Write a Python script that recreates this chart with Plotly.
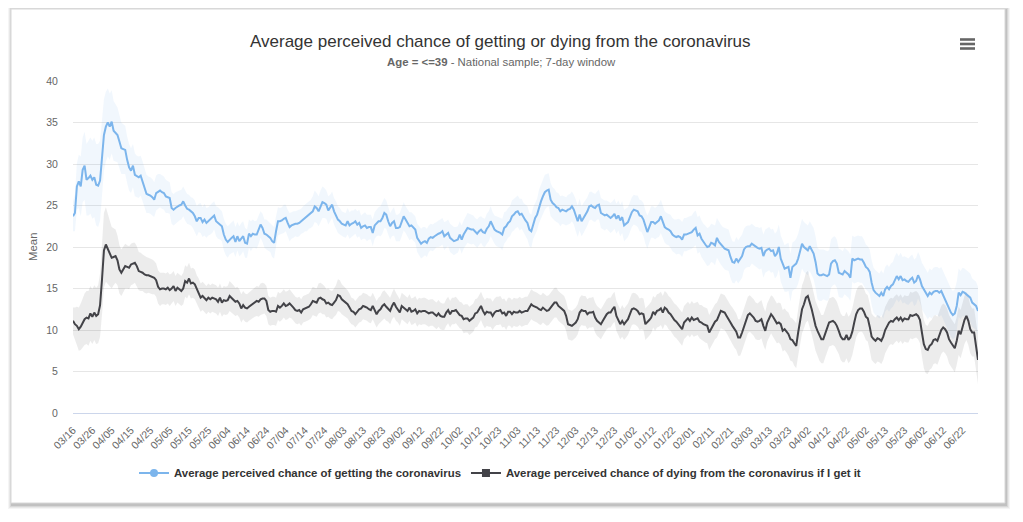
import pandas as pd
import plotly.graph_objects as go

# ---------------- data ----------------
start_date = "2020-03-16"
end_date = "2021-06-30"
missing_dates = ["2020-10-20", "2020-10-31", "2021-05-08"]

series_names = [
    "Average perceived chance of getting the coronavirus",
    "Average perceived chance of dying from the coronavirus if I get it",
]

get_mean = [
    23.7, 24.1, 27.3, 27.9, 27.3, 29.3, 29.8, 28.1, 28.3, 28.6,
    28.1, 28.4, 27.5, 27.4, 28.0, 31.0, 33.5, 34.5, 35.0, 34.5,
    35.1, 34.0, 33.7, 33.5, 32.7, 31.9, 31.8, 31.7, 30.5, 29.6,
    29.2, 29.8, 28.7, 28.5, 28.4, 28.6, 27.9, 27.1, 26.4, 26.3,
    26.2, 26.0, 25.7, 26.5, 26.7, 26.8, 26.6, 26.5, 26.1, 26.0,
    25.9, 24.7, 24.5, 24.7, 24.9, 25.0, 25.1, 25.5, 25.0, 24.6,
    24.5, 24.3, 24.1, 23.7, 23.1, 23.5, 23.5, 23.0, 23.3, 22.9,
    23.1, 23.3, 23.5, 23.8, 23.1, 22.9, 22.7, 22.5, 21.5, 20.9,
    20.6, 20.9, 21.1, 21.3, 20.6, 21.3, 20.7, 21.0, 21.3, 20.5,
    20.4, 21.6, 21.3, 21.6, 21.5, 21.5, 22.1, 22.7, 22.3, 21.6,
    21.5, 21.3, 21.1, 20.7, 20.5, 21.9, 23.1, 23.1, 23.2, 23.4,
    23.5, 22.9, 22.4, 22.6, 22.7, 22.8, 22.8, 22.9, 23.1, 23.3,
    23.5, 23.6, 23.8, 24.0, 24.3, 24.9, 24.7, 24.3, 24.9, 25.4,
    25.3, 25.1, 24.4, 24.7, 25.1, 24.3, 23.8, 23.3, 23.1, 22.8,
    22.7, 22.6, 23.1, 22.6, 22.8, 22.9, 23.1, 22.7, 22.9, 22.3,
    22.5, 22.6, 22.3, 22.4, 22.4, 21.7, 22.6, 22.9, 23.1, 23.1,
    23.5, 24.1, 23.9, 23.1, 22.5, 22.9, 23.1, 22.3, 22.3, 22.4,
    23.1, 23.7, 23.3, 22.9, 22.5, 22.6, 22.3, 22.1, 21.1, 20.7,
    20.4, 20.6, 20.7, 20.5, 21.0, 21.2, 21.1, 21.3, 21.5, 21.6,
    21.7, 21.9, 21.3, 21.5, 21.7, 21.1, 20.9, 20.7, 20.8, 20.9,
    21.5, 20.9, 21.5, 21.9, 22.3, 22.2, 22.1, 22.1, 21.8, 21.6,
    21.9, 22.1, 21.8, 21.7, 22.2, 22.5, 23.1, 22.5, 22.1, 21.9,
    21.8, 21.7, 21.5, 22.3, 22.5, 22.9, 23.1, 23.7, 23.9, 24.2,
    24.3, 23.9, 24.0, 23.5, 23.2, 22.9, 22.1, 21.9, 22.9, 23.5,
    23.9, 24.9, 25.5, 26.1, 26.6, 26.8, 26.9, 25.7, 25.3, 25.1,
    24.8, 24.7, 24.3, 24.5, 24.4, 24.3, 24.5, 24.6, 24.9, 24.5,
    23.8, 23.1, 23.9, 23.1, 23.5, 23.9, 24.3, 24.9, 25.0, 24.8,
    24.7, 25.0, 25.1, 24.1, 23.9, 23.8, 23.9, 23.7, 23.5, 23.7,
    24.0, 23.4, 23.8, 23.2, 23.6, 22.6, 22.8, 23.0, 23.6, 24.2,
    24.5, 24.4, 24.3, 23.8, 23.7, 23.3, 22.4, 21.8, 22.4, 23.0,
    23.0, 22.8, 23.0, 23.2, 23.7, 23.0, 22.4, 22.2, 22.1, 21.9,
    21.5, 21.3, 21.2, 21.3, 21.2, 20.9, 21.5, 21.5, 21.6, 21.7,
    21.8, 22.1, 22.3, 21.4, 21.6, 21.0, 20.6, 20.3, 20.0, 20.1,
    20.5, 20.4, 20.2, 21.1, 20.6, 20.3, 20.0, 19.8, 19.7, 19.6,
    18.8, 18.2, 18.1, 18.6, 18.2, 18.6, 18.9, 19.7, 20.0, 20.1,
    20.1, 20.4, 20.2, 20.0, 19.9, 19.8, 19.9, 18.9, 19.5, 19.7,
    19.8, 19.5, 19.6, 18.9, 19.2, 20.0, 18.6, 18.0, 17.4, 17.5,
    17.6, 16.3, 17.6, 17.8, 18.0, 18.6, 19.4, 20.4, 20.0, 19.8,
    19.6, 20.1, 19.6, 19.2, 18.2, 16.8, 16.6, 16.6, 16.7, 16.6,
    16.5, 16.7, 18.0, 18.3, 18.4, 18.0, 16.9, 16.8, 16.7, 17.1,
    16.9, 16.7, 16.3, 18.6, 18.4, 18.5, 18.6, 18.5, 18.5, 18.1,
    17.6, 17.4, 17.0, 15.7, 14.8, 14.5, 14.3, 14.1, 14.5, 14.1,
    14.9, 15.2, 14.9, 15.3, 15.5, 16.1, 16.5, 16.1, 16.5, 16.0,
    16.1, 15.9, 15.8, 16.1, 16.3, 15.7, 15.9, 16.6, 16.1, 15.3,
    14.9, 14.6, 14.1, 14.5, 14.3, 14.6, 14.7, 14.7, 14.5, 14.7,
    14.2, 13.6, 13.1, 12.5, 12.1, 11.8, 12.0, 12.9, 14.5, 14.2,
    14.6, 14.5, 14.3, 14.1, 13.9, 13.3, 13.1, 12.9, 12.3,
]

get_margin = [
    1.8, 2.2, 2.8, 3.2, 3.6, 3.9, 4.1, 4.3, 4.5, 4.6,
    4.7, 4.8, 4.9, 5.0, 4.8, 4.5, 4.3, 4.2, 4.1, 4.0,
    3.8, 3.6, 3.4, 3.3, 3.2, 3.1, 3.0, 2.9, 2.8, 2.8,
    2.7, 2.6, 2.6, 2.5, 2.5, 2.4, 2.4, 2.3, 2.3, 2.2,
    2.2, 2.2, 2.1, 2.1, 2.1, 2.0, 2.0, 2.0, 2.0, 1.9,
    1.9, 1.9, 1.9, 1.9, 1.8, 1.8, 1.8, 1.8, 1.8, 1.8,
    1.8, 1.7, 1.8, 1.9, 1.8, 1.7, 1.8, 1.8, 1.9, 1.8,
    1.7, 1.8, 1.8, 1.7, 1.8, 1.9, 1.8, 1.8, 1.9, 1.9,
    1.9, 1.8, 1.8, 1.9, 1.8, 1.7, 1.8, 1.9, 1.8, 1.8,
    1.7, 1.7, 1.8, 1.7, 1.6, 1.7, 1.7, 1.6, 1.7, 1.7,
    1.8, 1.8, 1.7, 1.9, 1.9, 1.8, 1.7, 1.6, 1.6, 1.7,
    1.6, 1.6, 1.7, 1.6, 1.6, 1.5, 1.6, 1.6, 1.5, 1.6,
    1.6, 1.7, 1.6, 1.7, 1.8, 1.9, 1.8, 1.8, 1.9, 1.9,
    1.8, 1.7, 1.7, 1.6, 1.6, 1.6, 1.7, 1.6, 1.6, 1.5,
    1.5, 1.5, 1.6, 1.6, 1.6, 1.5, 1.5, 1.6, 1.6, 1.5,
    1.5, 1.6, 1.6, 1.5, 1.5, 1.6, 1.6, 1.6, 1.7, 1.8,
    1.9, 1.8, 1.7, 1.6, 1.6, 1.6, 1.7, 1.6, 1.6, 1.7,
    1.8, 1.7, 1.6, 1.6, 1.7, 1.6, 1.6, 1.6, 1.7, 1.8,
    1.8, 1.8, 1.7, 1.7, 1.6, 1.6, 1.6, 1.6, 1.5, 1.6,
    1.6, 1.6, 1.7, 1.6, 1.6, 1.7, 1.7, 1.7, 1.6, 1.6,
    1.6, 1.7, 1.7, 1.7, 1.8, 1.8, 1.8, 1.7, 1.7, 1.7,
    1.7, 1.6, 1.7, 1.7, 1.8, 1.8, 1.8, 1.7, 1.7, 1.8,
    1.8, 1.8, 1.9, 1.9, 1.8, 1.8, 1.8, 1.9, 1.9, 1.9,
    1.9, 1.9, 1.8, 1.8, 1.9, 2.0, 2.0, 2.0, 1.9, 1.9,
    1.9, 2.0, 2.0, 2.1, 2.1, 2.0, 2.0, 2.0, 1.9, 1.9,
    1.8, 1.8, 1.8, 1.7, 1.7, 1.7, 1.8, 1.8, 1.8, 1.8,
    1.9, 1.9, 1.9, 1.8, 1.8, 1.8, 1.7, 1.7, 1.7, 1.7,
    1.7, 1.7, 1.8, 1.8, 1.8, 1.8, 1.7, 1.7, 1.8, 1.8,
    1.8, 1.8, 1.8, 1.9, 1.9, 1.9, 1.9, 1.8, 1.8, 1.8,
    1.8, 1.8, 1.9, 1.9, 1.9, 2.0, 2.0, 2.0, 1.9, 1.9,
    1.9, 1.9, 1.9, 2.0, 2.0, 2.0, 1.9, 1.9, 1.9, 2.0,
    2.0, 2.0, 2.1, 2.1, 2.1, 2.1, 2.0, 2.0, 2.0, 2.0,
    2.0, 2.1, 2.1, 2.2, 2.2, 2.2, 2.2, 2.3, 2.3, 2.3,
    2.3, 2.3, 2.4, 2.4, 2.4, 2.4, 2.4, 2.5, 2.5, 2.5,
    2.5, 2.5, 2.5, 2.6, 2.6, 2.6, 2.6, 2.5, 2.5, 2.5,
    2.5, 2.4, 2.4, 2.4, 2.5, 2.5, 2.5, 2.6, 2.6, 2.6,
    2.6, 2.6, 2.6, 2.7, 2.7, 2.7, 2.8, 2.8, 2.8, 2.9,
    2.9, 2.9, 2.9, 2.9, 3.0, 3.0, 3.0, 3.0, 3.0, 3.0,
    3.0, 3.0, 3.0, 3.1, 3.1, 3.1, 3.1, 3.1, 3.0, 3.0,
    3.0, 2.9, 2.9, 2.9, 2.9, 2.9, 2.9, 2.9, 2.8, 2.8,
    2.8, 2.8, 2.8, 2.8, 2.8, 2.8, 2.8, 2.8, 2.8, 2.8,
    2.7, 2.7, 2.7, 2.7, 2.7, 2.7, 2.7, 2.7, 2.7, 2.7,
    2.7, 2.7, 2.7, 2.7, 2.7, 2.8, 2.8, 2.8, 2.8, 2.8,
    2.8, 2.8, 2.8, 2.8, 2.8, 2.8, 2.8, 2.8, 2.8, 2.8,
    2.8, 2.8, 2.8, 2.9, 2.9, 2.9, 2.9, 2.9, 2.9, 2.9,
    2.9, 2.9, 2.9, 2.9, 2.9, 2.9, 2.9, 2.9, 2.9, 2.9,
    2.9, 2.9, 2.9, 2.9, 2.9, 2.9, 2.9, 2.9, 2.9,
]

die_mean = [
    11.1, 10.7, 10.5, 10.1, 10.4, 10.9, 11.3, 11.5, 11.4, 12.0,
    11.6, 12.1, 11.7, 11.9, 13.0, 16.1, 19.6, 20.3, 19.8, 19.2,
    18.7, 18.8, 18.9, 18.4, 17.3, 16.9, 17.3, 17.7, 17.6, 17.5,
    17.9, 18.0, 18.1, 17.7, 17.1, 17.0, 16.9, 16.7, 16.6, 16.6,
    16.5, 16.4, 16.3, 16.0, 15.2, 14.9, 15.0, 15.0, 14.9, 15.1,
    14.8, 15.0, 15.3, 14.7, 15.1, 14.9, 14.7, 15.0, 15.9, 15.7,
    16.2, 15.6, 15.7, 15.5, 14.9, 14.5, 13.9, 14.1, 13.8, 13.6,
    13.9, 13.7, 13.9, 13.8, 13.7, 13.4, 13.9, 13.3, 13.6, 13.5,
    13.6, 14.1, 13.9, 13.7, 13.4, 13.5, 13.2, 12.6, 13.0, 12.7,
    12.6, 12.8, 13.0, 13.2, 13.4, 13.5, 13.4, 13.7, 13.8, 13.8,
    13.5, 12.4, 12.2, 12.3, 12.3, 12.2, 12.9, 12.7, 12.9, 13.2,
    12.9, 13.0, 13.2, 13.0, 12.7, 12.4, 12.3, 12.4, 12.1, 12.5,
    12.6, 12.7, 12.8, 13.1, 13.5, 13.4, 13.3, 13.8, 13.9, 13.7,
    13.6, 13.2, 13.3, 13.1, 13.0, 13.3, 13.6, 14.2, 14.1, 13.7,
    13.5, 13.3, 13.1, 12.7, 12.3, 12.2, 11.9, 12.2, 12.5, 12.6,
    12.9, 12.8, 12.7, 12.5, 12.4, 12.9, 12.3, 11.9, 12.3, 12.5,
    12.9, 13.1, 12.8, 12.6, 12.3, 12.9, 13.3, 12.8, 12.5, 12.1,
    12.9, 12.7, 12.5, 12.3, 12.7, 12.2, 12.3, 12.5, 12.0, 12.3,
    12.2, 12.3, 12.3, 12.1, 12.0, 12.1, 12.1, 11.9, 11.7, 12.0,
    11.7, 11.6, 11.6, 12.1, 12.4, 11.9, 12.3, 12.3, 12.4, 12.1,
    11.8, 11.7, 11.3, 11.4, 11.4, 11.1, 11.3, 11.5, 12.0, 12.1,
    12.5, 12.9, 12.3, 11.9, 12.2, 12.1, 12.1, 11.7, 12.1, 12.3,
    12.3, 12.4, 12.0, 12.1, 11.7, 12.2, 12.2, 11.9, 12.2, 12.1,
    12.1, 12.3, 12.1, 12.2, 12.3, 12.3, 12.7, 13.1, 12.9, 12.8,
    12.7, 12.5, 12.4, 12.7, 12.5, 12.3, 12.4, 12.7, 12.9, 13.3,
    13.3, 12.9, 12.7, 12.5, 12.3, 11.7, 10.7, 10.6, 10.5, 10.7,
    10.9, 11.3, 12.1, 12.4, 12.3, 12.3, 11.9, 12.1, 12.1, 12.2,
    11.5, 11.1, 10.9, 10.7, 11.1, 11.5, 11.9, 12.1, 12.1, 12.5,
    12.8, 11.7, 11.2, 10.7, 11.1, 10.7, 11.0, 11.3, 11.9, 12.5,
    12.6, 12.5, 12.3, 11.9, 12.0, 11.9, 10.7, 10.9, 11.2, 11.5,
    12.2, 11.9, 12.3, 12.4, 12.6, 12.1, 12.7, 12.5, 12.1, 11.9,
    11.5, 11.2, 11.0, 10.7, 10.5, 10.1, 10.9, 11.2, 11.4, 11.1,
    11.5, 11.2, 11.3, 11.4, 11.0, 10.9, 10.7, 10.6, 10.5, 9.7,
    10.1, 10.5, 11.0, 11.2, 11.7, 12.3, 12.2, 12.1, 11.7, 11.2,
    10.9, 10.5, 10.1, 9.8, 9.1, 9.1, 9.7, 10.5, 11.1, 11.8,
    12.0, 11.8, 11.5, 11.1, 11.0, 11.1, 11.3, 10.5, 9.9, 10.9,
    11.5, 11.9, 11.6, 11.1, 10.8, 10.9, 10.7, 9.9, 10.1, 9.8,
    9.5, 8.9, 8.8, 8.4, 8.1, 9.7, 11.1, 12.5, 13.1, 13.9,
    14.1, 13.4, 12.5, 11.5, 10.5, 9.9, 9.3, 8.9, 8.9, 9.6,
    10.4, 10.9, 11.0, 11.1, 10.9, 10.5, 9.9, 9.2, 8.9, 8.9,
    9.4, 8.8, 9.1, 9.8, 10.9, 11.9, 12.4, 12.6, 12.6, 12.2,
    11.6, 11.4, 10.4, 9.2, 8.9, 8.7, 9.0, 8.9, 8.7, 9.2,
    10.0, 10.5, 10.9, 11.1, 11.0, 11.3, 11.5, 11.2, 11.5, 11.1,
    11.4, 11.3, 11.3, 11.8, 11.7, 11.8, 11.9, 11.7, 11.2, 9.7,
    8.3, 7.7, 7.6, 8.1, 8.3, 8.8, 8.9, 8.7, 9.5, 10.0,
    10.3, 10.1, 9.7, 8.9, 8.5, 8.2, 7.8, 8.7, 9.9, 9.5,
    10.5, 11.2, 11.7, 11.1, 10.1, 9.7, 9.7, 8.3, 6.4,
]

die_margin = [
    1.6, 2.0, 2.3, 2.6, 2.8, 3.0, 3.1, 3.2, 3.3, 3.3,
    3.3, 3.3, 3.4, 3.5, 3.8, 4.2, 4.5, 4.5, 4.3, 4.0,
    3.7, 3.4, 3.2, 3.0, 2.9, 2.8, 2.7, 2.7, 2.6, 2.6,
    2.5, 2.5, 2.4, 2.4, 2.3, 2.3, 2.2, 2.2, 2.2, 2.1,
    2.1, 2.1, 2.0, 2.0, 2.0, 2.0, 1.9, 1.9, 1.9, 1.9,
    1.9, 1.8, 1.8, 1.8, 1.8, 1.8, 1.8, 1.9, 1.9, 1.9,
    1.9, 1.8, 1.8, 1.8, 1.7, 1.7, 1.7, 1.7, 1.7, 1.7,
    1.7, 1.7, 1.7, 1.7, 1.7, 1.7, 1.7, 1.7, 1.7, 1.7,
    1.7, 1.8, 1.8, 1.7, 1.7, 1.7, 1.7, 1.7, 1.7, 1.7,
    1.7, 1.7, 1.7, 1.7, 1.8, 1.8, 1.8, 1.9, 1.9, 1.8,
    1.8, 1.7, 1.7, 1.7, 1.7, 1.7, 1.7, 1.7, 1.7, 1.7,
    1.7, 1.7, 1.7, 1.6, 1.6, 1.6, 1.6, 1.6, 1.6, 1.6,
    1.6, 1.6, 1.6, 1.7, 1.7, 1.7, 1.7, 1.8, 1.8, 1.8,
    1.7, 1.7, 1.7, 1.7, 1.7, 1.7, 1.8, 1.9, 1.9, 1.8,
    1.8, 1.7, 1.7, 1.7, 1.6, 1.6, 1.6, 1.6, 1.6, 1.6,
    1.6, 1.6, 1.6, 1.6, 1.6, 1.6, 1.6, 1.6, 1.6, 1.6,
    1.7, 1.7, 1.7, 1.6, 1.6, 1.6, 1.7, 1.7, 1.6, 1.6,
    1.6, 1.6, 1.6, 1.6, 1.6, 1.6, 1.6, 1.6, 1.6, 1.6,
    1.6, 1.6, 1.6, 1.6, 1.6, 1.6, 1.6, 1.6, 1.6, 1.6,
    1.6, 1.6, 1.6, 1.6, 1.6, 1.6, 1.6, 1.6, 1.6, 1.6,
    1.6, 1.6, 1.7, 1.7, 1.7, 1.7, 1.7, 1.7, 1.7, 1.7,
    1.7, 1.7, 1.7, 1.7, 1.7, 1.7, 1.7, 1.7, 1.7, 1.7,
    1.7, 1.7, 1.7, 1.7, 1.7, 1.7, 1.7, 1.7, 1.7, 1.7,
    1.7, 1.7, 1.7, 1.7, 1.7, 1.7, 1.8, 1.8, 1.8, 1.8,
    1.8, 1.8, 1.8, 1.8, 1.8, 1.8, 1.8, 1.8, 1.8, 1.8,
    1.8, 1.8, 1.8, 1.8, 1.8, 1.8, 1.8, 1.8, 1.8, 1.8,
    1.8, 1.8, 1.8, 1.8, 1.8, 1.8, 1.8, 1.8, 1.8, 1.8,
    1.8, 1.8, 1.8, 1.8, 1.8, 1.8, 1.8, 1.8, 1.8, 1.8,
    1.8, 1.8, 1.8, 1.8, 1.9, 1.9, 1.9, 1.9, 1.9, 1.9,
    1.9, 1.9, 1.9, 1.9, 1.9, 1.9, 1.9, 1.9, 1.9, 1.9,
    1.9, 2.0, 2.0, 2.0, 2.0, 2.0, 2.0, 2.0, 2.0, 2.0,
    2.0, 2.0, 2.0, 2.0, 2.0, 2.0, 2.0, 2.0, 2.0, 2.0,
    2.0, 2.0, 2.0, 2.0, 2.0, 2.1, 2.1, 2.1, 2.1, 2.1,
    2.1, 2.1, 2.1, 2.1, 2.1, 2.1, 2.1, 2.1, 2.1, 2.1,
    2.1, 2.2, 2.2, 2.2, 2.2, 2.2, 2.2, 2.2, 2.2, 2.2,
    2.2, 2.2, 2.2, 2.2, 2.2, 2.3, 2.3, 2.3, 2.3, 2.3,
    2.3, 2.3, 2.4, 2.4, 2.4, 2.4, 2.5, 2.5, 2.5, 2.5,
    2.6, 2.6, 2.6, 2.7, 2.7, 2.8, 2.8, 2.9, 2.9, 3.0,
    3.0, 3.0, 3.0, 3.0, 3.0, 3.0, 3.0, 2.9, 2.9, 2.9,
    2.9, 2.9, 2.9, 2.9, 2.9, 2.9, 2.8, 2.8, 2.8, 2.8,
    2.8, 2.8, 2.8, 2.8, 2.8, 2.8, 2.8, 2.8, 2.8, 2.8,
    2.8, 2.8, 2.8, 2.8, 2.8, 2.8, 2.8, 2.8, 2.8, 2.8,
    2.8, 2.8, 2.8, 2.8, 2.8, 2.8, 2.8, 2.8, 2.8, 2.8,
    2.8, 2.8, 2.8, 2.8, 2.8, 2.8, 2.8, 2.8, 2.8, 2.9,
    2.9, 2.9, 2.9, 2.9, 2.9, 2.9, 2.9, 2.9, 2.9, 2.9,
    2.9, 2.9, 2.9, 2.9, 2.9, 2.9, 2.9, 2.9, 2.9, 2.9,
    2.9, 2.9, 2.9, 2.9, 2.9, 2.9, 2.9, 2.9, 2.9,
]

y_ticks = [0, 5, 10, 15, 20, 25, 30, 35, 40]
title_text = "Average perceived chance of getting or dying from the coronavirus"
subtitle_text = "<b>Age = &lt;=39</b> - National sample; 7-day window"
y_title = "Mean"

# ---------------- categories ----------------
all_days = pd.date_range(start_date, end_date, freq="D")
drop = set(pd.to_datetime(missing_dates))
days = [d for d in all_days if d not in drop]
n = min(len(days), len(get_mean), len(die_mean), len(get_margin), len(die_margin))
days = days[:n]
categories = [d.strftime("%Y-%m-%d") for d in days]
tick_vals = categories[::10]
tick_text = [d.strftime("%m/%d") for d in days[::10]]

get_hi = [m + e for m, e in zip(get_mean[:n], get_margin[:n])]
get_lo = [m - e for m, e in zip(get_mean[:n], get_margin[:n])]
die_hi = [m + e for m, e in zip(die_mean[:n], die_margin[:n])]
die_lo = [m - e for m, e in zip(die_mean[:n], die_margin[:n])]

# ---------------- layout geometry (page pixels) ----------------
OFF = 8                      # the page body adds an 8px margin
W, H = 1023 - OFF, 522 - OFF
PL, PR, PT, PB = 73, 978, 81, 413   # plot area in page pixels
FONT = "Liberation Sans, Arial, Helvetica, sans-serif"
BLUE = "#7cb5ec"
DARK = "#434348"


def px(xp):
    return (xp - PL) / (PR - PL)


def py(yp):
    return (PB - yp) / (PB - PT)


fig = go.Figure()

# bands
fig.add_trace(go.Scatter(x=categories, y=get_hi, mode="lines", line=dict(width=0),
                         hoverinfo="skip", showlegend=False))
fig.add_trace(go.Scatter(x=categories, y=get_lo, mode="lines", line=dict(width=0),
                         fill="tonexty", fillcolor="rgba(124,181,236,0.11)",
                         hoverinfo="skip", showlegend=False))
fig.add_trace(go.Scatter(x=categories, y=die_hi, mode="lines", line=dict(width=0),
                         hoverinfo="skip", showlegend=False))
fig.add_trace(go.Scatter(x=categories, y=die_lo, mode="lines", line=dict(width=0),
                         fill="tonexty", fillcolor="rgba(67,67,72,0.10)",
                         hoverinfo="skip", showlegend=False))
# lines
fig.add_trace(go.Scatter(x=categories, y=get_mean[:n], mode="lines",
                         line=dict(color=BLUE, width=2), name=series_names[0],
                         showlegend=False))
fig.add_trace(go.Scatter(x=categories, y=die_mean[:n], mode="lines",
                         line=dict(color=DARK, width=2), name=series_names[1],
                         showlegend=False))
# legend entries
fig.add_trace(go.Scatter(x=[None], y=[None], mode="lines+markers",
                         line=dict(color=BLUE, width=2),
                         marker=dict(symbol="circle", size=8, color=BLUE),
                         name="<b>" + series_names[0] + "</b>"))
fig.add_trace(go.Scatter(x=[None], y=[None], mode="lines+markers",
                         line=dict(color=DARK, width=2),
                         marker=dict(symbol="square", size=8, color=DARK),
                         name="<b>" + series_names[1] + "</b>"))

shapes = []
# card shadow + card
for k, a in [(4, 0.04), (3, 0.05), (2, 0.07), (1, 0.10)]:
    shapes.append(dict(type="rect", xref="paper", yref="paper", layer="below",
                       x0=px(11 - k + 1), x1=px(1005 + k + 1),
                       y0=py(503 + k + 2), y1=py(9 - k + 1),
                       line=dict(width=0), fillcolor="rgba(0,0,0,%.2f)" % a))
shapes.append(dict(type="rect", xref="paper", yref="paper", layer="below",
                   x0=px(11), x1=px(1005), y0=py(503), y1=py(9),
                   line=dict(width=1, color="#d8d8d8"), fillcolor="#ffffff"))
# context-menu (hamburger) icon
for yy in (39.5, 44, 48.5):
    shapes.append(dict(type="line", xref="paper", yref="paper",
                       x0=px(960), x1=px(975), y0=py(yy), y1=py(yy),
                       line=dict(color="#666666", width=2.6)))

annotations = [
    dict(text=title_text, x=px(500.5), y=py(41), xref="paper", yref="paper",
         showarrow=False, xanchor="center", yanchor="middle",
         font=dict(family=FONT, size=17, color="#333333")),
    dict(text=subtitle_text, x=px(501), y=py(62), xref="paper", yref="paper",
         showarrow=False, xanchor="center", yanchor="middle",
         font=dict(family=FONT, size=11.4, color="#666666")),
    dict(text=y_title, x=px(33), y=py(247), xref="paper", yref="paper",
         showarrow=False, xanchor="center", yanchor="middle", textangle=-90,
         font=dict(family=FONT, size=11.4, color="#666666")),
]

fig.update_layout(
    width=W, height=H,
    margin=dict(l=PL - OFF, r=W - (PR - OFF), t=PT - OFF, b=H - (PB - OFF), pad=0),
    paper_bgcolor="#ffffff",
    plot_bgcolor="rgba(0,0,0,0)",
    font=dict(family=FONT, color="#666666"),
    shapes=shapes,
    annotations=annotations,
    showlegend=True,
    legend=dict(orientation="h", x=px(500), xanchor="center", y=py(473),
                yanchor="middle", font=dict(family=FONT, size=11.4, color="#333333"),
                itemwidth=30, bgcolor="rgba(0,0,0,0)", traceorder="normal"),
    xaxis=dict(type="category", range=[0, n - 1], tickmode="array",
               tickvals=tick_vals, ticktext=tick_text, tickangle=-45,
               showgrid=False, zeroline=False, showline=True, linecolor="#ccd6eb",
               linewidth=1, ticks="outside", ticklen=6, tickcolor="rgba(0,0,0,0)",
               tickfont=dict(family=FONT, size=10.5, color="#666666"),
               automargin=False, fixedrange=True),
    yaxis=dict(range=[0, 40], tickmode="array", tickvals=y_ticks,
               showgrid=True, gridcolor="#e6e6e6", gridwidth=1, zeroline=False,
               showline=False, ticks="outside", ticklen=12,
               tickcolor="rgba(0,0,0,0)",
               tickfont=dict(family=FONT, size=10.5, color="#666666"),
               automargin=False, fixedrange=True),
)

fig.write_html("out.html")
